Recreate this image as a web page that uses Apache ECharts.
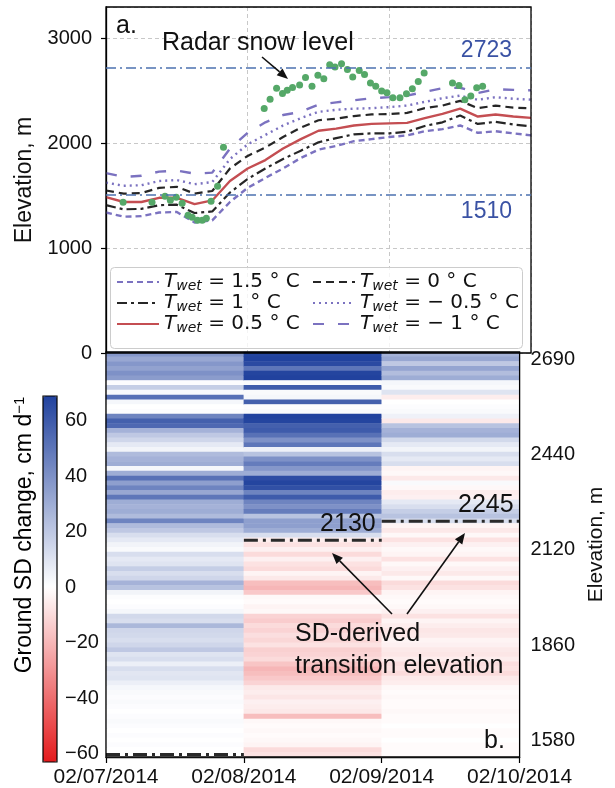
<!DOCTYPE html>
<html>
<head>
<meta charset="utf-8">
<script src="https://cdn.jsdelivr.net/npm/echarts@6.0.0/dist/echarts.min.js"></script>
<style>
  html, body { margin: 0; padding: 0; background: #ffffff; }
  #chart { width: 615px; height: 788px; }
</style>
</head>
<body>
<div id="chart"></div>
<script>
// ---------- Panel a: snow level for several wet-bulb thresholds ----------
const hours = [0, 3, 6, 9, 12, 15, 18, 21, 24, 27, 30, 33, 36, 39, 42, 45, 48, 51, 54, 57, 60, 63, 66, 69, 72];
const twetNames = ['1.5', '1', '0.5', '0', '\u2212 0.5', '\u2212 1'];
const snowTwet15  = [1340, 1300, 1305, 1340, 1345, 1245, 1265, 1440, 1575, 1670, 1760, 1860, 1940, 1975, 2020, 2040, 2060, 2075, 2115, 2135, 2170, 2100, 2115, 2095, 2076];
const snowTwet10  = [1410, 1370, 1375, 1410, 1415, 1335, 1350, 1530, 1660, 1760, 1850, 1930, 2010, 2050, 2085, 2095, 2095, 2110, 2165, 2200, 2265, 2185, 2205, 2180, 2162];
const snowTwet05  = [1486, 1440, 1440, 1480, 1480, 1420, 1455, 1640, 1760, 1840, 1950, 2040, 2120, 2140, 2170, 2185, 2190, 2195, 2240, 2280, 2330, 2255, 2275, 2255, 2243];
const snowTwet00  = [1550, 1520, 1525, 1575, 1585, 1520, 1545, 1760, 1880, 1960, 2060, 2150, 2220, 2235, 2260, 2275, 2280, 2290, 2335, 2360, 2405, 2335, 2360, 2340, 2333];
const snowTwetM05 = [1625, 1595, 1600, 1640, 1650, 1610, 1630, 1850, 1990, 2080, 2170, 2240, 2300, 2320, 2330, 2335, 2345, 2360, 2395, 2430, 2455, 2415, 2440, 2425, 2416];
const snowTwetM10 = [1715, 1680, 1690, 1730, 1740, 1710, 1720, 1950, 2100, 2200, 2270, 2300, 2370, 2390, 2410, 2430, 2440, 2455, 2490, 2525, 2530, 2480, 2515, 2510, 2505];

const radarHours = [2.9, 7.8, 10.0, 10.9, 11.9, 12.9, 13.9, 14.6, 15.5, 16.3, 17.0, 17.8, 18.9, 19.9, 26.8, 27.8, 28.9, 29.9, 30.7, 31.6,
                    32.8, 33.8, 34.9, 35.9, 36.9, 37.9, 38.8, 39.9, 40.9, 41.8, 42.9, 43.8, 44.8, 45.7, 46.7, 47.6, 48.6, 49.8, 50.9, 51.9,
                    52.9, 53.9, 58.7, 59.8, 60.8, 61.8, 62.8, 63.8];
const radarElev  = [1438, 1438, 1495, 1457, 1486, 1429, 1314, 1295, 1267, 1267, 1286, 1448, 1590, 1962, 2333, 2419, 2524, 2476, 2505, 2533,
                    2555, 2628, 2543, 2648, 2616, 2749, 2727, 2759, 2705, 2632, 2695, 2657, 2574, 2543, 2498, 2483, 2435, 2435, 2473, 2521,
                    2590, 2670, 2574, 2552, 2416, 2451, 2530, 2543];
const refLevels = [2723, 1510];

// ---------- Panel b: daily ground snow-depth change by station elevation ----------
const days = ['02/07/2014', '02/08/2014', '02/09/2014', '02/10/2014'];
const elevations = [
  2723, 2690, 2676, 2665, 2651, 2640, 2626, 2612, 2600, 2589,
  2575, 2563, 2550, 2538, 2525, 2512, 2500, 2488, 2476, 2463,
  2452, 2440, 2426, 2411, 2398, 2384, 2370, 2356, 2342, 2328,
  2315, 2301, 2287, 2273, 2259, 2245, 2210, 2180, 2155, 2130,
  2125, 2120, 2107, 2094, 2081, 2068, 2055, 2042, 2029, 2016,
  2003, 1990, 1977, 1964, 1951, 1938, 1925, 1912, 1899, 1886,
  1873, 1860, 1846, 1832, 1818, 1804, 1790, 1776, 1762, 1748,
  1734, 1720, 1706, 1692, 1678, 1664, 1650, 1636, 1622, 1608,
  1594, 1580, 1562, 1540, 1510];
const sdChange0207 = [
  38, 32, 38, 34, 40, 36, 1, 18, 2, 52,
  3, 0, 1, 45, 58, 55, 28, 20, 15, 8,
  4, 25, 28, 30, 3, 30, 52, 35, 45, 32,
  50, 30, 28, 30, 25, 45, 25, 20, 12, 8,
  4, 2, 12, 8, 10, 18, 12, 15, 28, 22,
  4, 1, 0, 1, 3, 14, 12, 26, 15, 14,
  12, 15, 20, 10, 12, 6, 12, 9, 10, 6,
  3, 2, 1, 2, 1, 0, 1, 2, 1, 0,
  1, 0, 1, 0, 0];
const sdChange0208 = [
  68, 70, 66, 50, 68, 70, 2, 60, 2, 3,
  58, 1, 2, 70, 68, 58, 60, 52, 40, 50,
  5, 22, 40, 48, 38, 30, 65, 68, 64, 45,
  60, 45, 40, 48, 22, 35, 35, 30, 12, -5,
  -8, -4, -10, -4, -8, -10, -3, -6, -18, -20,
  -15, -2, -1, -3, -2, -12, -14, -10, -12, -9,
  -11, -8, -13, -12, -10, -16, -20, -18, -15, -12,
  -6, -5, -7, -4, -5, -6, -18, -2, -1, -2,
  -1, -2, -3, -10, -8];
const sdChange0209 = [
  28, 32, 20, 33, 24, 30, 3, 2, 10, -5,
  0, 1, 2, 5, -6, 22, 28, 30, 14, 8,
  4, 12, 8, 12, -3, -2, -6, 2, -2, -5,
  -4, 8, 12, 18, 22, 12, -3, -6, -2, -8,
  -4, -2, -3, -8, -2, -4, -6, -2, -10, -8,
  -3, -2, -1, -2, -4, -8, -3, -5, -7, -6,
  -3, -4, -6, -7, -5, -9, -8, -10, -6, -5,
  -2, -1, -2, -1, -1, -2, -1, -1, 0, -1,
  -1, 0, -1, -1, -1];
const transitionElev = [1510, 2130, 2245];
const transitionLabelled = [false, true, true];
const elevTicks = [2690, 2440, 2120, 1860, 1580];
const colorbarRange = [-63, 69];

// ---------- styling ----------
const FONT = '"Liberation Sans", Arial, Helvetica, sans-serif';
const MATH = '"DejaVu Sans", sans-serif';
const PURPLE = '#7b72c0', BLACK = '#262626', RED = '#c44e52', GREEN = '#55a868', BLUE = '#4c72b0';
const snowSeries = [snowTwet15, snowTwet10, snowTwet05, snowTwet00, snowTwetM05, snowTwetM10];
const lineStyles = [
  { color: PURPLE, width: 2.4, type: [6, 4] },
  { color: BLACK, width: 2.2, type: [10, 4, 3, 4] },
  { color: RED, width: 2.4, type: 'solid' },
  { color: BLACK, width: 2.2, type: [8, 5] },
  { color: PURPLE, width: 2.4, type: [2, 4] },
  { color: PURPLE, width: 2.4, type: [11, 14] }
];
const seriesNames = twetNames.map(t => 'Twet = ' + t + ' \u00b0C');

const minus = v => (v < 0 ? '\u2212' + (-v) : String(v));

// red - white - blue diverging ramp, white at zero
const RED_END = [228, 26, 28], BLUE_END = [33, 66, 158];
function divergingColor(v) {
  const end = v < 0 ? RED_END : BLUE_END;
  const t = v < 0 ? v / colorbarRange[0] : v / colorbarRange[1];
  const c = end.map(e => Math.round(255 + (e - 255) * t));
  return 'rgb(' + c.join(',') + ')';
}
const cmapStops = [];
for (let v = colorbarRange[0]; v <= colorbarRange[1]; v++) cmapStops.push(divergingColor(v));

function arrow(x1, y1, x2, y2) {
  const a = Math.atan2(y2 - y1, x2 - x1), L = 11, W = 4.5;
  const bx = x2 - L * Math.cos(a), by = y2 - L * Math.sin(a);
  const px = -Math.sin(a) * W, py = Math.cos(a) * W;
  return [
    { type: 'line', z: 20, shape: { x1: x1, y1: y1, x2: bx, y2: by }, style: { stroke: '#111', lineWidth: 1.6 } },
    { type: 'polygon', z: 20, shape: { points: [[x2, y2], [bx + px, by + py], [bx - px, by - py]] }, style: { fill: '#111' } }
  ];
}

// legend: two columns of three entries, inside one framed box
function legendColumn(left, idxs) {
  return {
    orient: 'vertical', left: left, top: 272,
    itemWidth: 42, itemHeight: 14, itemGap: 0, padding: 0, selectedMode: false,
    itemStyle: { opacity: 0 }, z: 7,
    data: idxs.map(i => seriesNames[i]),
    formatter: name => {
      const i = seriesNames.indexOf(name);
      return '{t|T}{w|wet}{v| = ' + twetNames[i] + ' \u00b0 C}';
    },
    textStyle: {
      color: '#111',
      rich: {
        t: { fontFamily: MATH, fontStyle: 'italic', fontSize: 20, lineHeight: 22, verticalAlign: 'middle', color: '#111' },
        w: { fontFamily: MATH, fontStyle: 'italic', fontSize: 14, lineHeight: 12, verticalAlign: 'bottom', color: '#111' },
        v: { fontFamily: MATH, fontSize: 20, lineHeight: 22, verticalAlign: 'middle', color: '#111' }
      }
    }
  };
}

// ---------- series ----------
const series = [];
snowSeries.forEach((arr, i) => {
  series.push({
    name: seriesNames[i], type: 'line', xAxisIndex: 0, yAxisIndex: 0,
    data: hours.map((h, k) => [h / 24, arr[k]]),
    symbol: 'none', lineStyle: lineStyles[i], itemStyle: { color: lineStyles[i].color },
    z: 2, silent: true
  });
});
series.push({
  name: 'Radar snow level', type: 'scatter', xAxisIndex: 0, yAxisIndex: 0,
  data: radarHours.map((h, k) => [h / 24, radarElev[k]]),
  symbolSize: 7, itemStyle: { color: GREEN, opacity: 1 }, z: 4, silent: true,
  markLine: {
    silent: true, symbol: ['none', 'none'],
    lineStyle: { color: BLUE, width: 1.6, type: [10, 4, 2, 4] },
    label: { show: true, formatter: '{c}', color: '#3a52a4', fontSize: 23, fontFamily: FONT, padding: [0, 14, 0, 0] },
    data: refLevels.map(v => ({ yAxis: v, label: { position: v > 2000 ? 'insideEndTop' : 'insideEndBottom' } }))
  }
});
const heatData = [];
[sdChange0207, sdChange0208, sdChange0209].forEach((col, d) => {
  col.forEach((v, r) => heatData.push([d, r, v]));
});
const heatIndex = series.length;
series.push({
  type: 'heatmap', xAxisIndex: 1, yAxisIndex: 1, data: heatData,
  progressive: 0, silent: true, emphasis: { disabled: true }, z: 2
});
transitionElev.forEach((e, d) => {
  const idx = elevations.indexOf(e);
  series.push({
    type: 'line', xAxisIndex: 2, yAxisIndex: 1, z: 4, silent: true,
    symbol: 'circle', symbolSize: 0, showSymbol: true,
    lineStyle: { color: '#2a2a2a', width: 3, type: [14, 5, 3, 5] },
    label: { show: false, position: 'top', align: 'right', offset: [-6, 0], distance: 4,
             fontSize: 25, color: '#111', fontFamily: FONT, formatter: String(e) },
    data: [[d, idx], { value: [d + 1, idx], label: { show: transitionLabelled[d] } }]
  });
});

const chart = echarts.init(document.getElementById('chart'), null, { renderer: 'canvas' });
chart.setOption({
  animation: false,
  backgroundColor: '#ffffff',
  textStyle: { fontFamily: FONT },
  grid: [
    { left: 106, top: 7, width: 425, height: 346, show: true, borderColor: '#000', borderWidth: 1.3, backgroundColor: 'transparent', z: 5 },
    { left: 106, top: 352, width: 425, height: 405, show: true, borderColor: '#000', borderWidth: 1.3, backgroundColor: 'transparent', z: 5 },
    { left: 43, top: 396, width: 14, height: 366, show: true, borderColor: '#000', borderWidth: 1.2, backgroundColor: 'transparent', z: 5 }
  ],
  xAxis: [
    { gridIndex: 0, type: 'value', min: 0, max: 3, interval: 1,
      axisLine: { show: false }, axisTick: { show: false }, axisLabel: { show: false },
      splitLine: { show: true, lineStyle: { type: [4, 3], color: '#c8c8c8', width: 1 } } },
    { gridIndex: 1, type: 'category', data: days.slice(0, 3), position: 'top', show: false },
    { gridIndex: 1, type: 'value', min: 0, max: 3, interval: 1, position: 'bottom',
      axisLine: { show: true, lineStyle: { color: '#000', width: 1.3 } },
      axisTick: { show: true, length: 6, lineStyle: { color: '#000', width: 1.2 } },
      axisLabel: { formatter: v => days[v], fontSize: 21, color: '#111', margin: 10 },
      splitLine: { show: true, lineStyle: { type: [4, 3], color: '#c8c8c8', width: 1 } } },
    { gridIndex: 2, type: 'value', show: false }
  ],
  yAxis: [
    { gridIndex: 0, type: 'value', min: 0, max: 3300, interval: 1000,
      axisLine: { show: true, lineStyle: { color: '#000', width: 1.3 } },
      axisTick: { show: true, length: 5, lineStyle: { color: '#000', width: 1.2 } },
      axisLabel: { fontSize: 20, color: '#111', margin: 14, showMaxLabel: false, formatter: v => String(v) },
      splitLine: { show: true, lineStyle: { type: [4, 3], color: '#c8c8c8', width: 1 } },
      name: 'Elevation, m', nameLocation: 'middle', nameGap: 57,
      nameTextStyle: { fontSize: 23, color: '#111' } },
    { gridIndex: 1, type: 'category', data: elevations, inverse: true, position: 'right',
      axisLine: { show: true, lineStyle: { color: '#000', width: 1.3 } },
      axisTick: { show: true, length: 6, alignWithLabel: true, lineStyle: { color: '#000', width: 1.2 },
                  interval: (i, v) => elevTicks.includes(Number(v)) },
      axisLabel: { fontSize: 20, color: '#111', margin: 11,
                   interval: (i, v) => elevTicks.includes(Number(v)) },
      splitLine: { show: false },
      name: 'Elevation, m', nameLocation: 'middle', nameGap: 57,
      nameTextStyle: { fontSize: 21, color: '#111', padding: [0, 0, 0, 20] } },
    { gridIndex: 2, type: 'value', min: colorbarRange[0], max: colorbarRange[1], splitNumber: 7,
      minInterval: 20, maxInterval: 20, position: 'right',
      axisLine: { show: false },
      axisTick: { show: true, length: 5, lineStyle: { color: '#000', width: 1.2 } },
      axisLabel: { fontSize: 20, color: '#111', margin: 8, showMinLabel: false, showMaxLabel: false, formatter: minus },
      splitLine: { show: false } }
  ],
  visualMap: {
    type: 'continuous', seriesIndex: heatIndex, min: colorbarRange[0], max: colorbarRange[1],
    calculable: false, realtime: false, hoverLink: false, orient: 'vertical',
    left: 43, top: 396, itemWidth: 14, itemHeight: 366, padding: 0, text: null,
    inRange: { color: cmapStops }, z: 4
  },
  legend: [legendColumn(116, [0, 1, 2]), legendColumn(312, [3, 4, 5])],
  graphic: [
    { type: 'rect', z: 6, shape: { x: 110.5, y: 267.5, width: 412, height: 81, r: 4 },
      style: { fill: 'rgba(255,255,255,0.8)', stroke: '#cccccc', lineWidth: 1 } },
    { type: 'text', z: 20, x: 116, y: 26, style: { text: 'a.', fontSize: 25, fontFamily: FONT, fill: '#111', verticalAlign: 'middle' } },
    { type: 'text', z: 20, x: 162, y: 43, style: { text: 'Radar snow level', fontSize: 25, fontFamily: FONT, fill: '#111', verticalAlign: 'middle' } },
    ...arrow(262, 57, 288, 79),
    { type: 'text', z: 20, x: 484, y: 741, style: { text: 'b.', fontSize: 25, fontFamily: FONT, fill: '#111', verticalAlign: 'middle' } },
    { type: 'text', z: 20, x: 295, y: 634, style: { text: 'SD-derived', fontSize: 25, fontFamily: FONT, fill: '#111', verticalAlign: 'middle' } },
    { type: 'text', z: 20, x: 295, y: 666, style: { text: 'transition elevation', fontSize: 25, fontFamily: FONT, fill: '#111', verticalAlign: 'middle' } },
    ...arrow(392, 614, 332, 553),
    ...arrow(407, 614, 465, 533),
    { type: 'text', z: 20, x: 25, y: 535, rotation: Math.PI / 2,
      style: { text: '{a|Ground SD change, cm d}{b|\u22121}', align: 'center', verticalAlign: 'middle',
               rich: { a: { fontSize: 23, fontFamily: FONT, lineHeight: 26, verticalAlign: 'middle', color: '#111' },
                       b: { fontSize: 15, fontFamily: FONT, lineHeight: 12, verticalAlign: 'top', color: '#111' } } } }
  ],
  series: series
});
</script>
</body>
</html>
